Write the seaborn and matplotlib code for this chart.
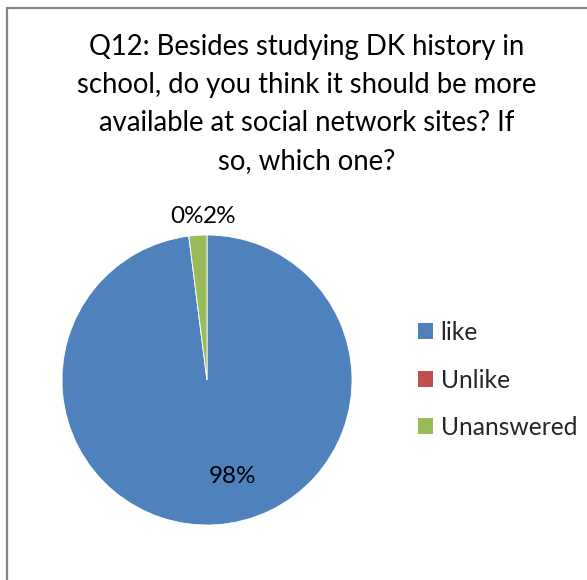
import numpy as np
import matplotlib.pyplot as plt
from matplotlib.patches import Rectangle
import seaborn as sns

# survey answers (percent)
categories = ['like', 'Unlike', 'Unanswered']
shares = [98, 0, 2]
pct_labels = ['98%', '0%', '2%']
colors = ['#4F81BD', '#C0504D', '#9BBB59']

title = ('Q12: Besides studying DK history in\n'
         'school, do you think it should be more\n'
         'available at social network sites? If\n'
         'so, which one?')

sns.set_theme(style='white')
plt.rcParams['font.family'] = ['Lato', 'DejaVu Sans']

W, H = 587, 580
fig = plt.figure(figsize=(W / 100, H / 100), dpi=100)

# chart frame (runs off the right and bottom edge)
fig.patches.append(Rectangle((7 / W, -0.1), 1.2, 1 - 8 / H + 0.1,
                             transform=fig.transFigure, fill=False,
                             edgecolor='#868686', linewidth=1.6))

cx, cy, r = 207, 380, 145
ax = fig.add_axes([(cx - r) / W, (H - cy - r) / H, 2 * r / W, 2 * r / H])
wedges, _ = ax.pie(shares, colors=colors, startangle=90, counterclock=False,
                   wedgeprops=dict(linewidth=0.6, edgecolor='white'))
ax.set_xlim(-1, 1)
ax.set_ylim(-1, 1)
ax.set_aspect('equal')
ax.axis('off')

# data labels, placed the way Excel's best fit did
label_pos = {'98%': (0.177, -0.667), '0%': (-0.135, 1.131), '2%': (0.085, 1.131)}
for txt in pct_labels:
    x, y = label_pos[txt]
    ax.text(x, y, txt, ha='center', va='center', fontsize=17.5, color='black',
            clip_on=False)

fig.text(307 / W, 1 - 104 / H, title, ha='center', va='center',
         fontsize=19.8, linespacing=1.58, color='black')

handles = [Rectangle((0, 0), 1, 1, facecolor=c, edgecolor='none') for c in colors]
fig.legend(handles, categories, loc='center left',
           bbox_to_anchor=(418 / W, 1 - 380 / H), frameon=False,
           fontsize=17.7, handlelength=0.62, handleheight=0.62,
           handletextpad=0.3, labelspacing=1.0, borderaxespad=0,
           borderpad=0)

fig.savefig('out.png', dpi=100, facecolor='white')
